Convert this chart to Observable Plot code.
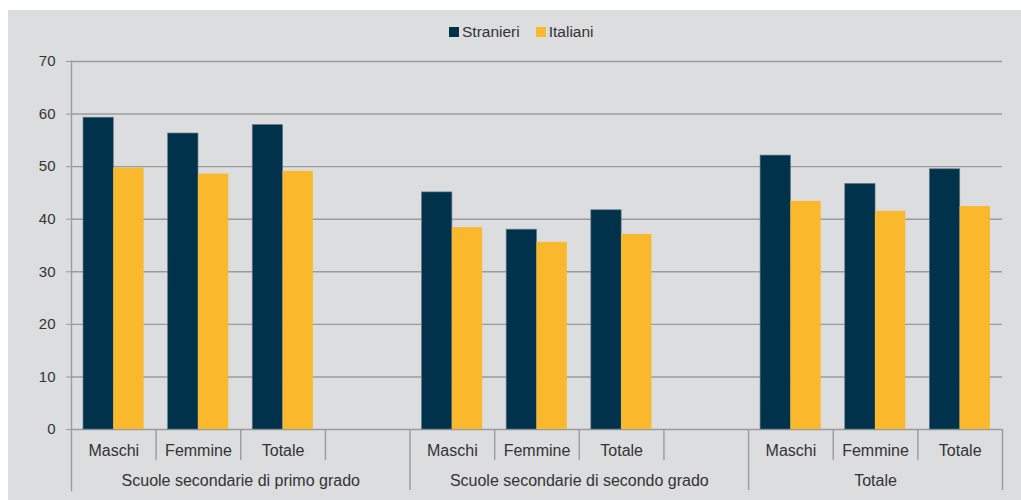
<!DOCTYPE html>
<html>
<head>
<meta charset="utf-8">
<script src="https://cdn.jsdelivr.net/npm/d3@7"></script>
<script src="https://cdn.jsdelivr.net/npm/@observablehq/plot@0.6"></script>
<style>
  html, body { margin: 0; padding: 0; background: #ffffff; }
  #wrap { position: absolute; left: 8px; top: 10px; width: 1013px; height: 490px; background: #dcdddf;
          font-family: "Liberation Sans", Arial, sans-serif; color: #333; }
  #legend { position: relative; height: 40px; }
  #legend .items { position: absolute; left: 441px; top: 13px; height: 18px; display: flex; align-items: center; font-size: 15.5px; }
  #legend .sw { width: 10px; height: 10px; margin-right: 3px; }
  #legend .item { display: flex; align-items: center; margin-right: 16px; }
  #chart svg { display: block; }
</style>
</head>
<body>
<div id="wrap">
  <div id="legend"></div>
  <div id="chart"></div>
</div>
<script>
// ---- data ----
const groups = ["Scuole secondarie di primo grado", "Scuole secondarie di secondo grado", "Totale"];
const subcats = ["Maschi", "Femmine", "Totale"];
const seriesNames = ["Stranieri", "Italiani"];
const seriesColors = ["#00324b", "#fab92c"];
// values in order: group1 (Maschi, Femmine, Totale), group2 (...), group3 (...)
const stranieri = [59.3, 56.3, 57.9, 45.1, 38.0, 41.7, 52.1, 46.7, 49.5];
const italiani  = [49.7, 48.6, 49.1, 38.4, 35.6, 37.1, 43.4, 41.5, 42.4];
const yTicks = [0, 10, 20, 30, 40, 50, 60, 70];

// ---- build table ----
const slots = [];
const rows = [];
groups.forEach((g, gi) => {
  subcats.forEach((s, si) => {
    const key = g + "|" + s;
    slots.push(key);
    const k = gi * subcats.length + si;
    rows.push({slot: key, series: seriesNames[0], value: stranieri[k]});
    rows.push({slot: key, series: seriesNames[1], value: italiani[k]});
  });
  if (gi < groups.length - 1) slots.push(g + "|"); // empty category slot
});
const subLabel = key => key.split("|")[1];

// separators
const shortSeps = slots.filter((k, i) => i > 0 && !(subLabel(k) === "Maschi"));
const longSeps = slots.filter((k, i) => i > 0 && subLabel(k) === "Maschi");
const lastSlot = slots[slots.length - 1];

// ---- legend ----
const legend = d3.select("#legend").append("div").attr("class", "items");
seriesNames.forEach((n, i) => {
  const it = legend.append("div").attr("class", "item");
  it.append("div").attr("class", "sw").style("background", seriesColors[i]);
  it.append("span").text(n);
});

// ---- chart ----
const W = 1013, H = 450, ML = 63, MR = 19, MT = 11, MB = 71;
const bw = (W - ML - MR) / slots.length;
const outer = bw * 0.142;
const grid = "#9b9b9b";
const font = "Liberation Sans, Arial, sans-serif";

const groupMid = groups.map((g, gi) => {
  const keys = slots.filter(k => k.startsWith(g + "|"));
  return {group: g, keys};
});
// groups with an even number of slots center on a slot boundary, odd on a slot center
const evenGroups = groupMid.filter(d => d.keys.length % 2 === 0).map(d => ({label: d.group, slot: d.keys[d.keys.length / 2 - 1]}));
const oddGroups = groupMid.filter(d => d.keys.length % 2 === 1).map(d => ({label: d.group, slot: d.keys[(d.keys.length - 1) / 2]}));

const chart = Plot.plot({
  width: W, height: H,
  marginLeft: ML, marginRight: MR, marginTop: MT, marginBottom: MB,
  style: {background: "transparent", fontFamily: font, color: "#333", overflow: "visible"},
  x: {type: "band", domain: slots, padding: 0, round: false, axis: null},
  y: {domain: [0, 70], axis: null},
  marks: [
    Plot.ruleY(yTicks, {stroke: grid, strokeWidth: 1.4}),
    Plot.barY(rows.filter(d => d.series === seriesNames[0]), {
      x: "slot", y: "value", fill: seriesColors[0],
      stroke: "#5f7687", strokeWidth: 0.8, strokeOpacity: 0.8,
      insetLeft: outer, insetRight: bw / 2
    }),
    Plot.barY(rows.filter(d => d.series === seriesNames[1]), {
      x: "slot", y: "value", fill: seriesColors[1],
      insetLeft: bw / 2, insetRight: outer
    }),
    Plot.axisY({ticks: yTicks, tickSize: 5, tickPadding: 11, stroke: grid, fill: "#333",
                fontSize: 15, tickFormat: d => String(d), label: null}),
    Plot.frame({anchor: "left", insetBottom: -61, stroke: grid, strokeWidth: 1.4}),
    Plot.axisX({ticks: shortSeps, tickSize: 31, dx: -bw / 2, stroke: grid, strokeWidth: 1.4, fill: "none", label: null}),
    Plot.axisX({ticks: longSeps, tickSize: 61, dx: -bw / 2, stroke: grid, strokeWidth: 1.4, fill: "none", label: null}),
    Plot.axisX({ticks: [lastSlot], tickSize: 61, dx: bw / 2, stroke: grid, strokeWidth: 1.4, fill: "none", label: null}),
    Plot.text(slots, {x: d => d, text: subLabel, frameAnchor: "bottom", dy: 21, lineAnchor: "middle",
                      fontSize: 16, fill: "#333"}),
    Plot.text(evenGroups, {x: "slot", text: "label", frameAnchor: "bottom", dx: bw / 2, dy: 51, lineAnchor: "middle",
                           fontSize: 16, fill: "#333"}),
    Plot.text(oddGroups, {x: "slot", text: "label", frameAnchor: "bottom", dy: 51, lineAnchor: "middle",
                          fontSize: 16, fill: "#333"})
  ]
});
document.getElementById("chart").appendChild(chart);
</script>
</body>
</html>
